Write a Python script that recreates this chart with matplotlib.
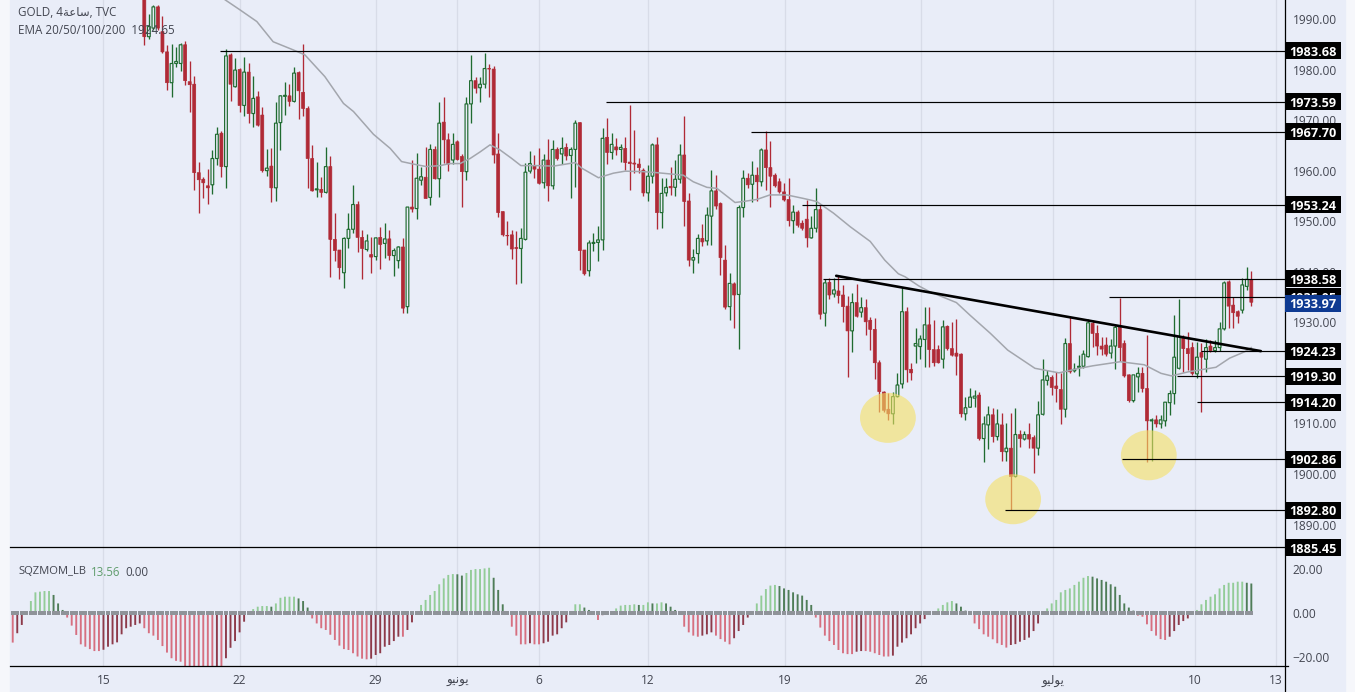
import matplotlib
matplotlib.use("Agg")
import matplotlib.pyplot as plt
from matplotlib.patches import Rectangle, Ellipse
from matplotlib.lines import Line2D

W, H = 1355, 692
FONT = "Open Sans"
plt.rcParams['font.family'] = [FONT, 'DejaVu Sans']

# ---------- data (4h GOLD candles) ----------
opens = [1998,1986.5,1988.2,1992.4,1987.5,1983.5,1977.4,1981.2,1981.2,1984.9,1977.6,1977.1,1959.6,1958.3,1957,1957.2,1962.4,1967.4,1960.8,1982.9,
1976.6,1980,1972.9,1979.5,1971.3,1974.6,1971,1960,1960.9,1956.6,1969.5,1974.7,1974.8,1973.7,1979.4,1975.5,1972.3,1962.4,1956.2,1956.3,
1955.7,1960.8,1946.4,1944.3,1939.8,1946.6,1948.4,1953.3,1946.8,1944.4,1943.4,1943,1946.8,1945.6,1946.5,1943.2,1942.2,1944.9,1933.1,1952.8,
1952.5,1958.1,1958.7,1954.7,1964.2,1958.4,1969.6,1966.1,1962.1,1965.7,1962.8,1959.8,1973.2,1977.8,1976.4,1977.1,1980.2,1980.1,1963.3,1951.9,
1947.2,1947.3,1944.8,1944.6,1946.4,1959.9,1960.9,1960.3,1957.6,1962.1,1957,1964.2,1963.3,1964.6,1963,1964.2,1969.5,1944.3,1940.2,1945.6,
1945.8,1946.3,1966.6,1963.6,1964.7,1964.2,1964.4,1961.7,1961.5,1961.3,1960.1,1955.6,1958.9,1965.1,1951.7,1955.6,1956.9,1956.7,1958.3,1963.1,
1954,1942.3,1943.6,1946.6,1946.1,1951,1956,1953.5,1942.3,1933.1,1937.6,1935.5,1952.7,1958.5,1957.3,1959.1,1957.8,1964.1,1960.6,1959.1,
1957.8,1955.8,1954.3,1950.1,1951.8,1949.6,1950.4,1946.7,1948.6,1952.3,1931.8,1937.9,1935.6,1936.2,1935.4,1933.2,1928.3,1933.9,1932,1932.9,
1930.4,1928.6,1922,1916.2,1912.8,1911.9,1915.3,1917.8,1932.1,1920.7,1925.3,1925.2,1926.6,1929.5,1924.6,1924.6,1922.7,1929.2,1924.8,1923.9,
1923.7,1911.9,1913.2,1915,1915.6,1907,1909.7,1911.7,1907.4,1909.7,1904.4,1905.1,1899.5,1907.8,1906.9,1907.8,1907.2,1905.1,1911.8,1918.5,
1919.1,1917.4,1916.7,1912.8,1925.8,1920.4,1921.1,1921.3,1923.2,1929.8,1927.8,1925.3,1925.5,1923.9,1925.3,1929,1925.8,1919.6,1914.5,1919.2,
1919.9,1916.9,1910.5,1910.7,1909.9,1910.5,1914.1,1915.9,1920.9,1927,1924.8,1925,1919.8,1924,1922.7,1925.3,1924.4,1925,1928.7,1938,
1933.4,1932.1,1932.4,1937.1,1938.4]
highs = [2001,1991,1992.8,1992.8,1990.5,1984.9,1985,1984.5,1985.2,1985.7,1981.6,1978.7,1961.8,1958.8,1960.3,1964.1,1968.6,1967.8,1984,1983.2,
1982.2,1980.3,1982.4,1981.2,1978.7,1975.8,1972.5,1964.3,1964.4,1973.5,1975,1977.5,1977.1,1980.6,1979.8,1985,1972.8,1965.1,1961.7,1958.7,
1964.6,1962.9,1951.6,1944.4,1946.8,1951.6,1957.1,1953.9,1948.3,1947.5,1946.8,1946.8,1948.8,1949.6,1948.3,1944.6,1945.1,1946.6,1952.9,1962.1,
1963.4,1960.8,1964.7,1965.3,1964.9,1973.6,1974.5,1967.4,1967.4,1966,1963.3,1974.5,1982.9,1978.6,1978.6,1983.3,1981.1,1980.7,1967.4,1952.1,
1950,1948.3,1948,1948.6,1961.6,1963.9,1963.1,1964.4,1963.3,1966.2,1966.1,1964.7,1966.6,1965.4,1964.6,1970,1969.7,1944.4,1946.3,1947.6,
1949.1,1968.5,1970.5,1967.5,1966.4,1965.2,1966.7,1973,1968,1962.6,1960.5,1961.1,1965.4,1966.7,1958.5,1958.5,1960.8,1962.1,1965.2,1970.8,
1955.5,1944.5,1947.5,1949.4,1952.9,1960.1,1959.1,1953.7,1945.3,1939.7,1937.9,1953.3,1960.1,1959.6,1961.9,1960.7,1964.4,1967.8,1965.9,1959.5,
1958.5,1957.6,1958.5,1953.2,1952.2,1950.2,1954.1,1951,1956.5,1953.2,1938.5,1938.7,1938.7,1939.2,1937.4,1935.2,1935.7,1937.5,1935.1,1934.7,
1931.1,1930.8,1922.5,1916.4,1916,1916.3,1920,1936.9,1933.1,1921.9,1928.8,1927.5,1933.1,1933.1,1930.4,1925.5,1930.4,1929.4,1930,1930.6,
1923.9,1915.3,1917,1916.6,1916.3,1911.5,1913.4,1913,1912.8,1912,1910,1912,1913,1908.7,1908.4,1910,1907.7,1914.5,1922.7,1920.6,
1919.6,1920.2,1919.9,1926.8,1931.1,1921.9,1923.5,1924.5,1930.6,1930.4,1929.4,1927,1927.1,1926.6,1929.5,1934.9,1926.5,1919.7,1919.6,1921.2,
1921.2,1927.5,1911,1911.7,1911.7,1914.3,1916.7,1931.4,1934.7,1927.5,1928.1,1926.2,1926.2,1926,1926.6,1926.5,1926.5,1930,1938.2,1938.4,
1935.1,1932.4,1938.7,1940.9,1940.2]
lows = [1984.9,1986,1987.8,1987.8,1983.2,1976,1974.6,1980.6,1979.8,1977,1971.7,1956.2,1951.6,1954.5,1953.5,1955.4,1961.1,1958.8,1956.6,1973.7,
1976.6,1971.7,1970.8,1969.5,1968.6,1968.8,1959.8,1959,1953.7,1954,1964,1971,1972.7,1973.5,1970.3,1970.9,1956.5,1956,1954.7,1954.7,
1955.5,1939,1942.2,1938.5,1936.7,1944.6,1947.6,1944,1938.5,1944.2,1939.8,1942.3,1940.5,1942.7,1942.3,1939.2,1940.7,1931.8,1931.9,1951.9,
1950.4,1957.2,1954.5,1953.3,1958.3,1954.7,1961.5,1960,1961.4,1962.1,1952.9,1958.1,1969.5,1975.3,1973.6,1976.3,1974.5,1961.6,1950.9,1947.1,
1945.3,1942.5,1937.6,1937.7,1946.3,1959.6,1958.5,1957.3,1956.5,1954,1956.3,1962.1,1961.3,1962.1,1954.5,1956.8,1940.3,1939.3,1939.2,1944.2,
1942.1,1944.4,1961.3,1962.3,1963.1,1961.8,1960.1,1956.2,1959.5,1959.5,1955,1954,1957.6,1948.4,1948.6,1954.9,1955.2,1955,1957.5,1949.1,
1941.2,1939.7,1941.7,1945,1945.3,1945.3,1952.5,1939.4,1932.6,1930.5,1928.9,1924.8,1950.9,1956.5,1953.7,1954,1957,1956.2,1952.9,1956.8,
1955.5,1954,1949,1947.6,1948.9,1948.3,1944.8,1946.6,1947.9,1930.6,1929.3,1934.7,1935.1,1933.8,1930,1919.1,1924.2,1931.1,1931.1,1927.5,
1924.5,1918.7,1912.3,1912.3,1910.7,1909.8,1915.3,1917.1,1918.2,1918.5,1921.9,1922.8,1921.2,1921.2,1921.3,1921.9,1920.9,1924.6,1923.3,1919.6,
1911.2,1910.7,1913.2,1913.3,1906.7,1902.4,1905,1906.4,1906.7,1902.6,1902.6,1892.8,1899.4,1905.3,1906.7,1905.1,1900.2,1903.8,1911.7,1917.6,
1915.6,1914.3,1909.9,1911.3,1920,1920.2,1919.4,1920.9,1923.1,1925.2,1923.5,1923.5,1923.4,1922.9,1920.7,1922.4,1919.2,1914.3,1914.3,1916.3,
1916.3,1902.4,1902.5,1909.2,1909,1909.4,1911.7,1913.8,1920.8,1920.2,1920.6,1919.6,1918.9,1912.3,1920.2,1924.2,1924.2,1924.4,1928.5,1928.8,
1928.8,1929.8,1931.9,1936.3,1933.2]
closes = [1986.5,1988.5,1992.4,1988.2,1983.5,1977.4,1981.2,1981.6,1984.9,1977.8,1977,1959.6,1958.2,1957.6,1956.6,1962.4,1967.2,1960.8,1982.7,1977.1,
1979.9,1972.9,1979.5,1971.3,1974.3,1969,1960,1960.5,1956.6,1969.4,1974.8,1974.9,1973.7,1979.3,1975.8,1972.3,1962.4,1956,1956.4,1955.7,
1960.8,1946.4,1944.2,1940.8,1946.6,1948.4,1953.3,1946.8,1944.6,1946.1,1942.9,1946.7,1945.4,1946.5,1943.2,1944.2,1944.9,1932.8,1952.8,1952.4,
1958.5,1958.8,1954.5,1964.2,1958.4,1969.4,1966.1,1961.3,1965.2,1962.2,1959.8,1973.2,1977.8,1976.3,1977.1,1980.2,1980.1,1963.1,1951.7,1947.3,
1947.1,1944.5,1944.6,1946.6,1959.7,1961.4,1960.3,1957.5,1962.1,1957,1964.2,1962.4,1964.4,1962.9,1964.2,1969.4,1944.2,1939.6,1945.7,1945.8,
1946.3,1966.4,1963.6,1965.2,1964.1,1964.6,1961.6,1961.4,1961.3,1960.6,1955.6,1958.9,1965.1,1951.7,1955.5,1956.7,1956.6,1958.3,1963.1,1953.9,
1942.3,1942.8,1946.6,1945.9,1951.2,1956,1953,1942.8,1933,1937.7,1935.4,1952.7,1958.5,1957.2,1959.1,1957.8,1964.1,1960.6,1958.9,1957,
1955.8,1954.2,1950.1,1951.8,1949.2,1948.6,1946.7,1948.6,1952.3,1931.6,1937.8,1935.4,1936.4,1935.3,1933.1,1928.3,1933.9,1931.2,1932.9,1930.1,
1928.6,1922,1916.3,1912.6,1911.9,1915.3,1917.6,1932.1,1920.6,1920,1925.8,1926.7,1929.5,1924.6,1922,1922,1929.1,1924.8,1923.5,1923.3,
1911.9,1913.1,1915.2,1915.4,1907,1909.9,1911.7,1907.4,1909.9,1904.4,1905.1,1899.5,1907.8,1907,1907.8,1906.9,1905.1,1911.7,1918.6,1919.4,
1917.1,1916.9,1912.8,1925.8,1920.2,1920.7,1921.3,1923.7,1929.9,1927.8,1925.3,1924.7,1923.7,1925.3,1929,1925,1919.4,1914.5,1919.6,1919.9,
1916.9,1910.5,1910.7,1909.9,1910.7,1914.2,1915.9,1923.1,1927.2,1924.8,1923.8,1919.9,1923.1,1923.1,1925,1924.4,1925,1928.7,1937.8,1933.2,
1931.9,1931.2,1937.4,1938.5,1933.97]

ema_bar = [15,17.8,21.1,24.8,28.4,32.8,35.4,39.8,43.9,46.1,50.5,54.2,56.7,59.3,62.2,65.2,67.4,69.6,71.8,74,76.2,78.4,81,83,86.5,90.2,95,96.4,100.1,103.4,106,110,113,118.8,121,124,126.2,130.2,132,135,137.9,141.6,145.3,148.2,151.9,155.6,160,163.2,166.2,167.7,170.7,173,179,182,186.5,190.3,196.3,201.6,206.1,209.1,215.1,220.4,224.1,226.4,230.1,236.2,239.2,242.6,244]
ema_val = [1996,1993.8,1991.8,1989.5,1985.5,1983.9,1982.9,1978.6,1973.3,1971.7,1967.2,1964.4,1961.8,1961.3,1960.8,1961,1961.4,1961.4,1962.4,1963.7,1965.1,1964.1,1962.4,1961,1961,1960.9,1961.6,1960.5,1958.6,1959.5,1959.9,1959.8,1959.6,1959.1,1957.8,1956.7,1956.5,1953.7,1953.9,1954.3,1955.2,1955.2,1954.5,1953.9,1951.6,1948.9,1946,1942.3,1939.6,1939,1937.2,1936.1,1933.9,1931.4,1927.8,1924.5,1920.9,1920,1920.9,1921.4,1922.2,1921.6,1919.9,1919.4,1920.2,1921.1,1922.9,1924.2,1925]

momentum = [-13.6,-9.3,-5.5,-0.2,5.5,9.5,9.8,10.1,10.1,8.3,4.4,1.4,-2.1,-5.8,-10.1,-14.4,-15.5,-16.6,-17.5,-17.5,-16.9,-15.5,-14.4,-13.5,-9.8,-7,-6.3,-5.5,-4.8,-7,-9.3,-10.4,-12.4,-15.2,-18.2,-20.8,-22,-22.4,-25,-26,-26,-26,-26,-26,-26,-25,-25,-20.8,-16,-12.9,-8.9,-4,-0.9,1.8,2.9,3.2,3.2,2.9,4.4,7,7.5,7.5,7.5,6.7,5.5,2.5,-2.5,-4.8,-7,-7.8,-10,-12.4,-15,-16.6,-17,-18.5,-20,-21,-21.3,-21,-19.3,-18.5,-15.5,-14.7,-12.9,-10.9,-10.9,-7.8,-4.3,-0.6,3.7,6,8.3,10.1,13.2,15.9,17.5,17.9,17.8,17.2,18.4,19.8,20.2,20.2,20.5,20.8,16.2,10.6,4,-0.9,-6.3,-10.4,-14.4,-14.4,-13.9,-14.4,-14.4,-13.9,-13.2,-10.4,-9.8,-7,-4.3,-0.9,4,4,2.5,1.4,0.2,-3.2,-1,-0.2,0.2,2.1,3.4,3.7,3.7,4,3.7,3.7,4.9,4.4,4.4,4.9,4.4,2.9,1.4,
-0.9,-6.3,-8.9,-10.4,-10.9,-10.4,-9.8,-8.9,-10.4,-12,-13.2,-14.4,-11.6,-8.3,-5.5,-2.1,0.9,4.4,8,11,12.6,12.9,12.4,11.3,10.6,9.5,8.6,8,6,3.7,-2.1,-6.7,-10.4,-12.9,-14.7,-17,-18.5,-18.9,-18.9,-17.8,-17.5,-17.5,-17.8,-18.5,-19.3,-20,-20,-19.6,-15.5,-13.6,-11.6,-9.8,-7,-4.8,-2.8,-0.9,0.2,2.1,3.7,4.9,5.5,4.4,2.9,1.1,-0.9,-4.8,-7.4,-9.8,-10.9,-12.1,-13.9,-14.7,-15.9,-14.7,-14.3,-13.2,-12.4,-11.3,-8.3,-4.8,-0.2,2.1,4.4,6,9.5,10.6,11.3,12.9,14.4,16.2,17,16.7,15.9,15.2,14.4,13.2,12.1,8.3,4.4,2.5,1.1,-1.2,-1.7,-5.2,-8.3,-10.4,-12,-12.4,-10.9,-8.3,-5.5,-3.7,-2.5,0.2,1.4,4,6,7.5,8.6,11.3,12.9,13.9,13.9,14.4,14.4,13.9,13.56]

# horizontal levels: (price, first bar)
level_prices = [1983.68,1973.59,1967.70,1953.24,1938.58,1935.05,1924.23,1919.30,1914.20,1902.86,1892.80]
level_starts = [16.7,101.8,133.7,145,149.6,212.6,232.8,227.6,232,215.5,189.7]
floor_price = 1885.45
last_price = 1933.97

trend_bars = [152.5,246.1]
trend_vals = [1939.2,1924.3]

circle_bars = [163.9,191.5,221.4]
circle_vals = [1911.1,1895.0,1903.7]

price_ticks = [1890,1900,1910,1920,1930,1940,1950,1960,1970,1980,1990]
mom_ticks = [-20,0,20]
date_bars = [-9,21,51,69,87,111,141.2,171.3,200.3,231.6,249.5]
date_labels = ['15','22','29','\ufeee\ufef4\ufee7\ufeee\ufef3','6','12','19','26','\ufeee\ufef4\ufedf\ufeee\ufef3','10','13']

title_line = 'GOLD, 4\ufe94\ufecb\ufe8e\ufeb3, TVC'
ema_label = 'EMA 20/50/100/200  1924.65'

# ---------- colours ----------
BG = '#e9edf8'
OUT = '#f6f7fb'
RED = '#b02a36'
GREEN = '#1f6b30'
GRID = '#d8dce8'
TXT = '#434651'

fig = plt.figure(figsize=(W/100, H/100), dpi=100, facecolor=OUT)
fig.add_artist(Rectangle((10/W, 0), 1335/W, 1, transform=fig.transFigure, color=BG, zorder=-5))

L, R = 10, 1285
TOP_M, BOT_M, BOT_L = 0, 547, 666
ax = fig.add_axes([L/W, (H-BOT_M)/H, (R-L)/W, (BOT_M-TOP_M)/H], facecolor='none')
ax2 = fig.add_axes([L/W, (H-BOT_L)/H, (R-L)/W, (BOT_L-BOT_M)/H], facecolor='none', sharex=ax)

x0, dx = 144.3, 4.537
ax.set_xlim((L-x0)/dx, (R-x0)/dx)
ax.set_ylim(1990-(BOT_M-19)/5.055, 1990+19/5.055)
ax2.set_ylim((613-BOT_L)/2.175, (613-BOT_M)/2.175)

# ---------- grid ----------
for a in (ax, ax2):
    for b in date_bars:
        a.axvline(b, color=GRID, lw=0.9, zorder=0)
    for s in a.spines.values():
        s.set_visible(False)

# ---------- candles ----------
bars = list(range(len(opens)))
wick_col = [GREEN if c >= o else RED for o, c in zip(opens, closes)]
ax.vlines(bars, lows, highs, colors=wick_col, lw=0.95, zorder=2)
for i, o, c in zip(bars, opens, closes):
    bot, hgt = min(o, c), abs(c-o)
    if c >= o:
        cont = ax.bar(i, hgt, bottom=bot, width=0.6, facecolor=BG, edgecolor=GREEN, lw=0.85, zorder=3)
    else:
        cont = ax.bar(i, hgt, bottom=bot, width=0.66, facecolor=RED, edgecolor=RED, lw=0.5, zorder=3)
    for p in cont:
        p.set_snap(False)

ax.plot(ema_bar, ema_val, color='#a3a6ad', lw=1.1, zorder=4)

# ---------- circles ----------
for b, v in zip(circle_bars, circle_vals):
    ax.add_patch(Ellipse((b, v), 12.3, 9.9, facecolor=(0.96, 0.88, 0.39), alpha=0.6, edgecolor='none', zorder=5))

# ---------- levels ----------
xmax = ax.get_xlim()[1]
ax.hlines(level_prices, level_starts, xmax, colors='black', lw=0.85, zorder=6)
ax.plot(trend_bars, trend_vals, color='black', lw=1.9, zorder=6, solid_capstyle='round')

# ---------- ticks ----------
ax.set_yticks(price_ticks)
ax.set_yticklabels([f'{v:.2f}' for v in price_ticks])
ax.yaxis.tick_right()
ax.tick_params(axis='y', length=0, pad=5.6, labelsize=8.6, labelcolor=TXT)
ax.tick_params(axis='x', length=0, labelbottom=False)
ax2.set_yticks(mom_ticks)
ax2.set_yticklabels([f'{v:.2f}'.replace('-', '\u2212') for v in mom_ticks])
ax2.yaxis.tick_right()
ax2.tick_params(axis='y', length=0, pad=5.6, labelsize=8.6, labelcolor=TXT)
ax2.set_xticks(date_bars)
ax2.set_xticklabels(date_labels)
ax2.tick_params(axis='x', length=0, pad=6, labelsize=8.6, labelcolor=TXT)

# ---------- momentum ----------
mom_bars = list(range(len(opens)-len(momentum), len(opens)))
prev = [momentum[0]] + momentum[:-1]
mcol = []
for v, p in zip(momentum, prev):
    if v >= 0:
        mcol.append('#93cc98' if v >= p else '#4f7d58')
    else:
        mcol.append('#d66f80' if v <= p else '#8d3a4a')
mb = ax2.bar(mom_bars, momentum, width=0.42, color=mcol, zorder=2)
for p in mb:
    p.set_snap(False)
ax2.scatter(mom_bars, [0]*len(mom_bars), marker='s', s=5.5, color='#8f9399', linewidths=0, zorder=3)

# ---------- frame lines ----------
px = lambda x, y: ((x)/W, 1-(y)/H)
def fig_line(x1, y1, x2, y2, **kw):
    a, b = px(x1, y1), px(x2, y2)
    fig.add_artist(Line2D([a[0], b[0]], [a[1], b[1]], transform=fig.transFigure, **kw))
fig_line(R, 0, R, H, color='black', lw=0.9, zorder=6)
fig_line(L, BOT_L, R+3, BOT_L, color='black', lw=0.9, zorder=6)
fig_line(L, BOT_M, R, BOT_M, color='black', lw=0.9, zorder=6)

# ---------- price boxes ----------
def price_box(v, color='black', z=10, shift=0):
    y = 19 + (1990-v)*5.055 + shift
    fig.add_artist(Rectangle((R/W, 1-(y+8.5)/H), 56/W, 17/H, transform=fig.transFigure,
                             facecolor=color, edgecolor='none', zorder=z))
    fig.text((R+28)/W, 1-y/H, f'{v:.2f}', color='white', fontsize=9.1, fontweight='bold',
             ha='center', va='center_baseline', zorder=z+0.5, family=FONT)
for k, v in enumerate(level_prices):
    price_box(v, z=10+k)
price_box(floor_price, z=30)
price_box(last_price, color='#0e3a92', z=40, shift=1)

# ---------- legends ----------
ax.text(18/W, 1-12/H, title_line, transform=fig.transFigure, fontsize=8.4, color=TXT, va='center', ha='left', zorder=20)
ax.text(18/W, 1-30/H, ema_label, transform=fig.transFigure, fontsize=8.4, color=TXT, va='center', ha='left', zorder=20)
ax2.text(18/W, 1-572/H, 'SQZMOM_LB', transform=fig.transFigure, fontsize=8.1, color=TXT, va='center', ha='left', zorder=20)
ax2.text(91/W, 1-572/H, '13.56', transform=fig.transFigure, fontsize=8.3, color='#5f9c6c', va='center', ha='left', zorder=20)
ax2.text(125/W, 1-572/H, '0.00', transform=fig.transFigure, fontsize=8.3, color=TXT, va='center', ha='left', zorder=20)

fig.savefig('out.png', dpi=100, facecolor=OUT)
